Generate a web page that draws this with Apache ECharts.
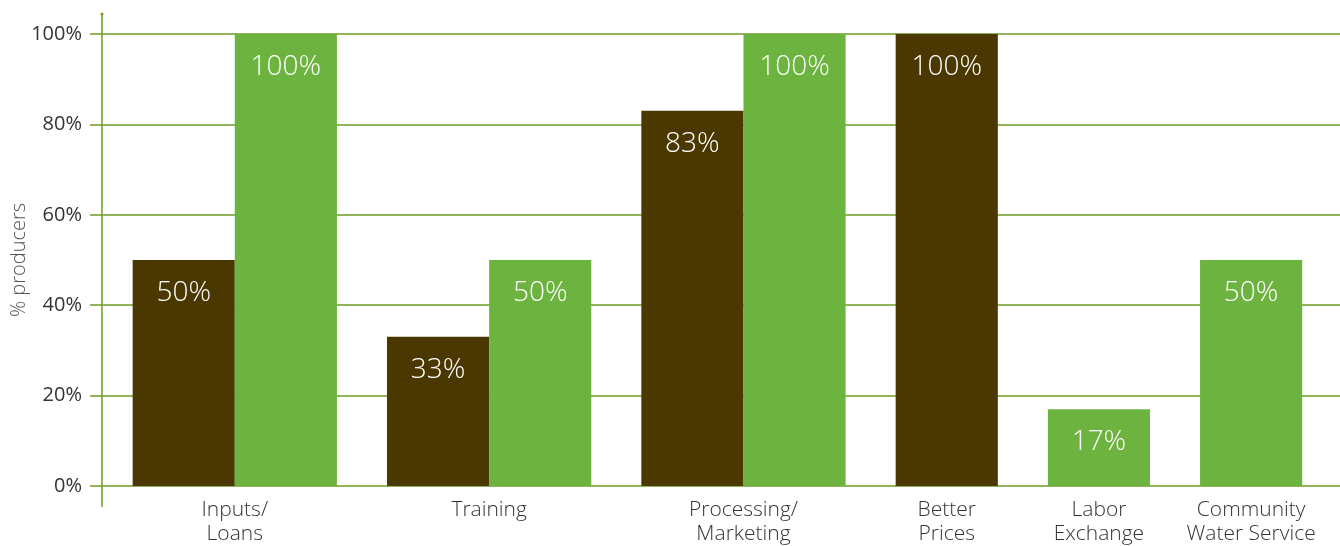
<!DOCTYPE html>
<html>
<head>
<meta charset="utf-8">
<title>% producers by benefit</title>
<script src="https://cdn.jsdelivr.net/npm/echarts@6/dist/echarts.min.js"></script>
<style>
  html, body { margin: 0; padding: 0; background: #fff; }
  #chart { width: 1340px; height: 546px; }
</style>
</head>
<body>
<div id="chart"></div>
<script>
// Benefit categories (x axis) and the two bar series, in percent of producers
const categories = ['Inputs/\nLoans', 'Training', 'Processing/\nMarketing', 'Better\nPrices', 'Labor\nExchange', 'Community\nWater Service'];
const darkValues  = [50, 33, 83, 100, null, null];
const lightValues = [100, 50, 100, null, 17, 50];
const yTicks = [0, 20, 40, 60, 80, 100];

const DARK = '#4a3800';
const LIGHT = '#6cb33f';
const RULE = '#6f9c23';
const FONT = '"Open Sans", "DejaVu Sans", sans-serif';

// Horizontal layout in bar-width units: groups hold only the bars that exist,
// single bars are centred in their group.
const PAD_LEFT = 0.30, GROUP_GAP = 0.49, PAD_RIGHT = 0.37;
const darkData = [], lightData = [], groupCenters = [];
let cursor = PAD_LEFT;
categories.forEach((c, i) => {
  const start = cursor;
  if (darkValues[i] != null) { darkData.push([cursor, darkValues[i]]); cursor += 1; }
  if (lightValues[i] != null) { lightData.push([cursor, lightValues[i]]); cursor += 1; }
  groupCenters.push((start + cursor) / 2);
  cursor += GROUP_GAP;
});
const xMax = cursor - GROUP_GAP + PAD_RIGHT;

function barRenderer(color) {
  return function (params, api) {
    const x0 = api.value(0), v = api.value(1);
    const top = api.coord([x0, v]);
    const bottom = api.coord([x0 + 1, 0]);
    return {
      type: 'group',
      children: [
        { type: 'rect',
          shape: { x: top[0], y: top[1], width: bottom[0] - top[0], height: bottom[1] - top[1] },
          style: { fill: color } },
        { type: 'text',
          style: { x: (top[0] + bottom[0]) / 2, y: top[1] + 33, text: v + '%',
                   fill: '#ffffff', font: '300 28px ' + FONT, align: 'center', verticalAlign: 'middle' } }
      ]
    };
  };
}

const chart = echarts.init(document.getElementById('chart'), null, { renderer: 'canvas' });
chart.setOption({
  animation: false,
  backgroundColor: '#ffffff',
  grid: { left: 102, right: 0, top: 34, bottom: 60, containLabel: false, outerBoundsMode: 'none' },
  xAxis: {
    type: 'value', min: 0, max: xMax,
    axisLine: { show: false }, axisTick: { show: false }, splitLine: { show: false },
    axisLabel: {
      customValues: groupCenters,
      showMinLabel: true, showMaxLabel: true, hideOverlap: false,
      margin: 12, color: '#333333', fontFamily: FONT, fontWeight: 300, fontSize: 21, lineHeight: 24,
      formatter: function (val) {
        let best = 0;
        groupCenters.forEach((c, i) => { if (Math.abs(c - val) < Math.abs(groupCenters[best] - val)) best = i; });
        return categories[best];
      }
    }
  },
  yAxis: {
    type: 'value', min: 0, max: 100, interval: 20,
    name: '% producers', nameLocation: 'middle', nameGap: 73, nameRotate: 90, nameMoveOverlap: false,
    nameTextStyle: { color: '#555555', fontFamily: FONT, fontWeight: 300, fontSize: 20 },
    axisLine: { show: false },
    axisTick: { show: true, length: 12, lineStyle: { color: RULE, width: 1.5 } },
    splitLine: { show: true, lineStyle: { color: RULE, width: 1.5 } },
    axisLabel: { margin: 20, color: '#333333', fontFamily: FONT, fontWeight: 400, fontSize: 20,
                 customValues: yTicks, formatter: v => v + '%' }
  },
  series: [
    { name: 'dark', type: 'custom', renderItem: barRenderer(DARK), data: darkData, z: 3 },
    { name: 'light', type: 'custom', renderItem: barRenderer(LIGHT), data: lightData, z: 3 }
  ]
});

// Vertical axis rule, extending a little beyond the 0–100% range
const p0 = chart.convertToPixel({ gridIndex: 0 }, [0, 0]);
const p100 = chart.convertToPixel({ gridIndex: 0 }, [0, 100]);
chart.setOption({
  graphic: [
    { type: 'line', shape: { x1: p0[0], y1: p100[1] - 20, x2: p0[0], y2: p0[1] + 21 },
      style: { stroke: RULE, lineWidth: 1.5 }, z: 5 },
    { type: 'circle', shape: { cx: p0[0], cy: p100[1] - 20, r: 1.5 },
      style: { fill: RULE }, z: 5 }
  ]
});
</script>
</body>
</html>
